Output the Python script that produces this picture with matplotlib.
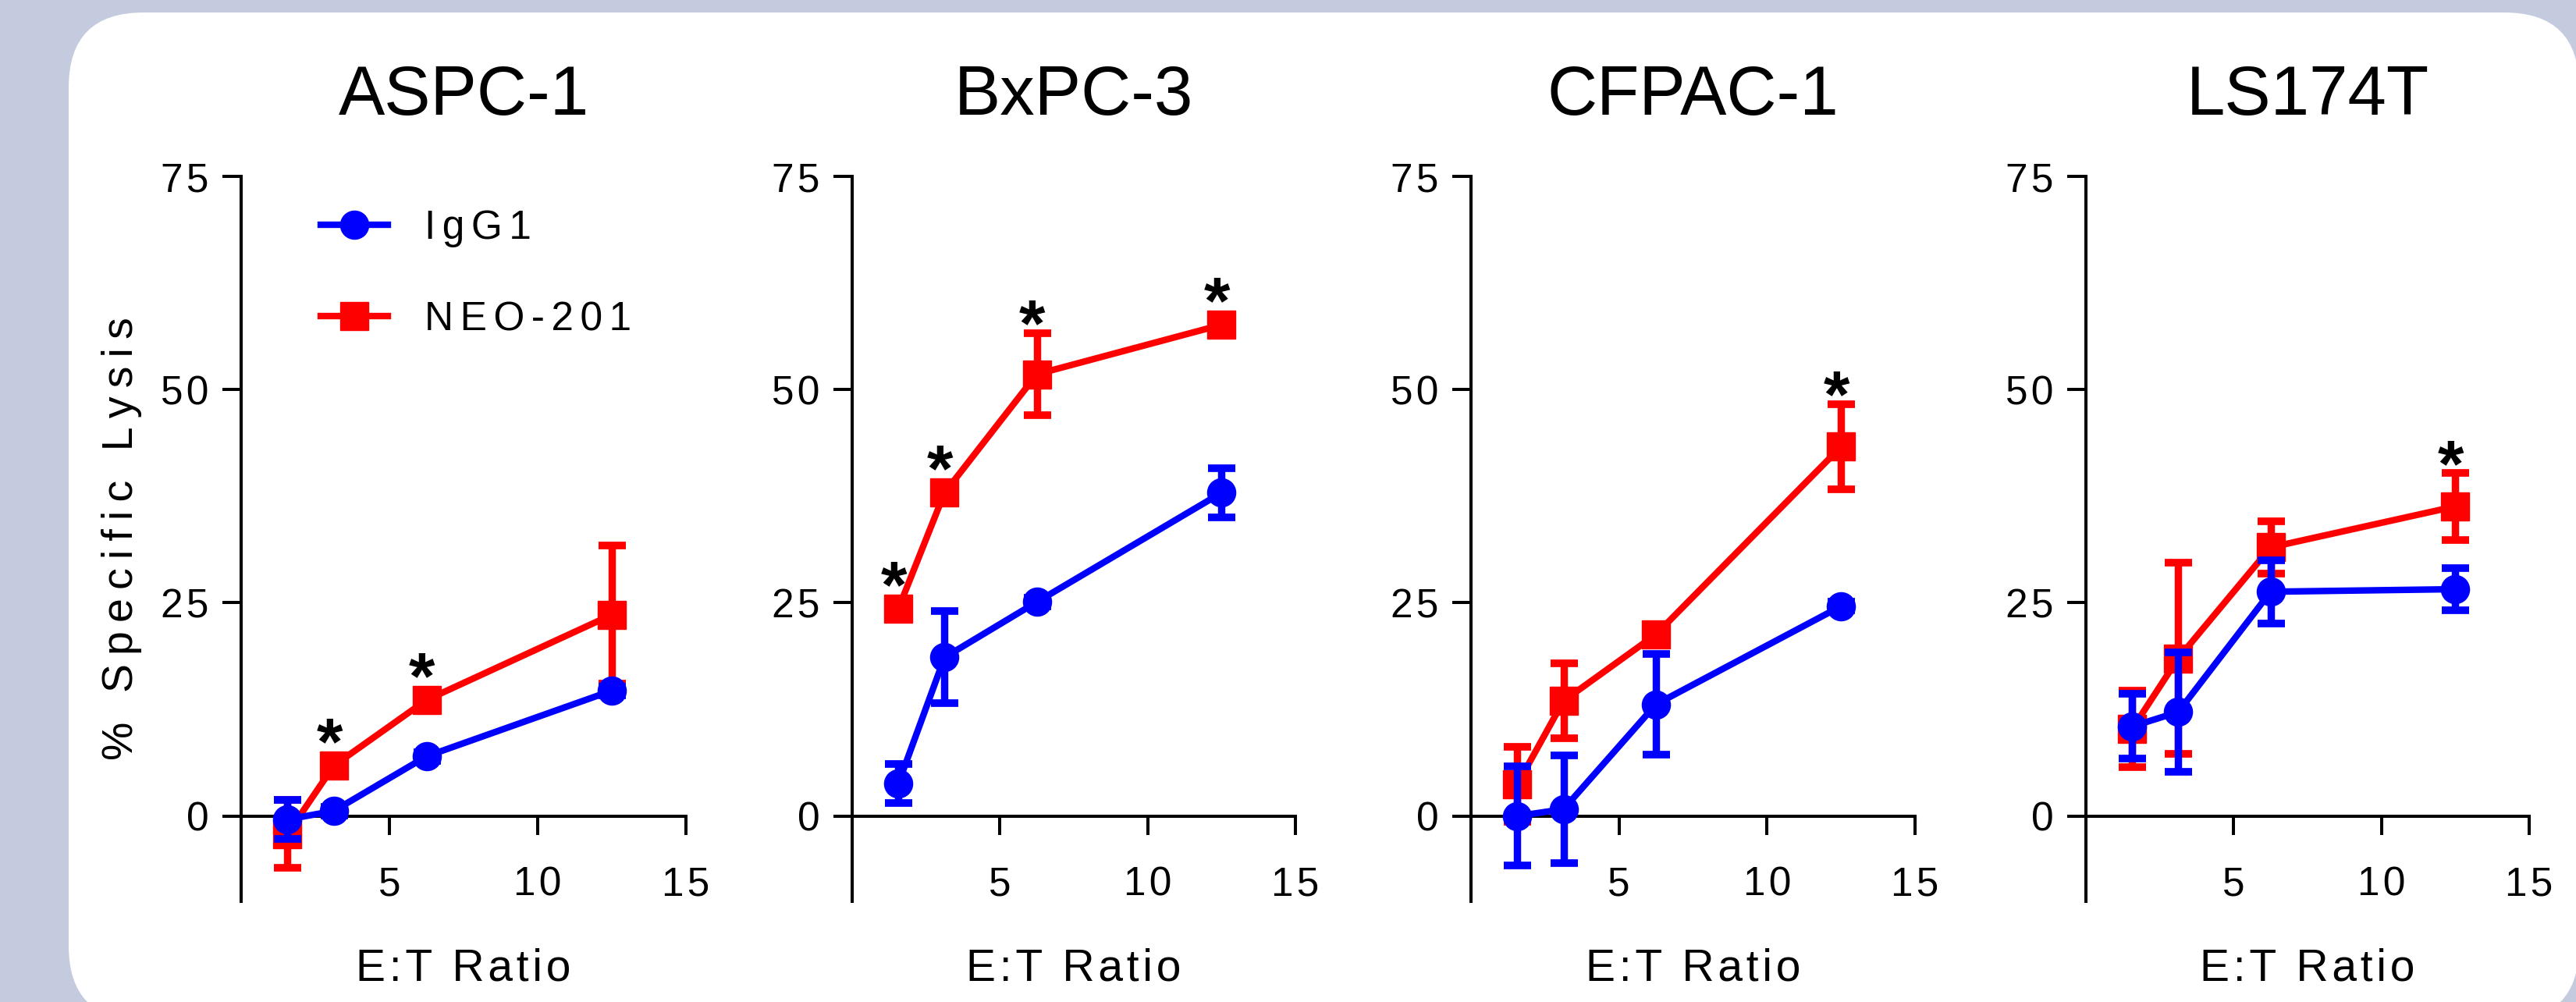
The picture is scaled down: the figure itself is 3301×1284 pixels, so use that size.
import matplotlib.pyplot as plt
from matplotlib.patches import FancyBboxPatch

plt.rcParams['font.family'] = ['Liberation Sans', 'DejaVu Sans']

# E:T ratios (x) shared by all panels
ratios = [1.5625, 3.125, 6.25, 12.5]
cell_lines = ["ASPC-1", "BxPC-3", "CFPAC-1", "LS174T"]
x_ticks = [5, 10, 15]
y_ticks = [0, 25, 50, 75]

# % specific lysis, one row per cell line
igg1_mean = [
    [-0.4, 0.6, 7.0, 14.7],
    [3.8, 18.6, 25.1, 37.9],
    [0.0, 0.8, 13.1, 24.6],
    [10.5, 12.2, 26.3, 26.6],
]
igg1_err = [
    [2.3, 0.5, 0.5, 0.5],
    [2.3, 5.4, 0.5, 2.9],
    [5.8, 6.3, 5.9, 0.5],
    [3.8, 7.0, 3.7, 2.5],
]
neo_mean = [
    [-2.1, 5.9, 13.6, 23.6],
    [24.3, 37.9, 51.8, 57.6],
    [3.7, 13.5, 21.3, 43.3],
    [10.2, 18.5, 31.5, 36.3],
]
neo_err = [
    [4.0, 0.5, 0.5, 8.1],
    [0.5, 0.5, 4.8, 0.5],
    [4.4, 4.4, 0.5, 5.0],
    [4.5, 11.2, 3.1, 3.9],
]
# points marked significant (*)
star_idx = [[1, 2], [0, 1, 2, 3], [3], [3]]

BLUE = '#0000ff'
RED = '#ff0000'
W, H = 3301, 1284
HAIR = '\u200a'
THIN = '\u2009'


def spaced(s, gap=HAIR):
    return gap.join(s)


fig = plt.figure(figsize=(W / 100, H / 100), dpi=100, facecolor='#c5cbdf')
card = FancyBboxPatch((0.88, -0.24), 32.17, 12.92,
                      boxstyle='round,pad=0,rounding_size=0.96',
                      transform=fig.dpi_scale_trans, facecolor='white',
                      edgecolor='none', zorder=-1)
fig.add_artist(card)

lefts = [309, 1092, 1885, 2673]
rights = [879, 1660, 2454, 3241]

for i, name in enumerate(cell_lines):
    ax = fig.add_axes([lefts[i] / W, 129 / H, (rights[i] - lefts[i]) / W, 929 / H])
    ax.set_facecolor('none')

    ax.errorbar(ratios, neo_mean[i], yerr=neo_err[i], fmt='none', ecolor=RED,
                elinewidth=6.8, capsize=12.6, capthick=7, zorder=2, clip_on=False)
    red_line, = ax.plot(ratios, neo_mean[i], color=RED, lw=6, marker='s', ms=26,
                        zorder=3, clip_on=False)
    ax.errorbar(ratios, igg1_mean[i], yerr=igg1_err[i], fmt='none', ecolor=BLUE,
                elinewidth=6.8, capsize=12.6, capthick=7, zorder=4, clip_on=False)
    blue_line, = ax.plot(ratios, igg1_mean[i], color=BLUE, lw=6, marker='o', ms=26,
                         zorder=5, clip_on=False)

    for j in star_idx[i]:
        top = neo_mean[i][j] + max(neo_err[i][j], 1.7)
        ax.text(ratios[j] - 0.15, top - 1.5, '*', ha='center', va='baseline',
                fontsize=62, fontweight='bold', zorder=6)

    ax.spines[['top', 'right']].set_visible(False)
    ax.spines['bottom'].set_position(('data', 0))
    for s in ('left', 'bottom'):
        ax.spines[s].set_linewidth(2.9)
    ax.set_xlim(0, 15)
    ax.set_ylim(-10, 75)
    ax.set_xticks(x_ticks, [spaced(str(v)) for v in x_ticks])
    ax.set_yticks(y_ticks, [spaced(str(v)) for v in y_ticks])
    ax.tick_params(axis='both', direction='out', length=17, width=2.9, labelsize=37)
    ax.tick_params(axis='x', pad=29)
    ax.tick_params(axis='y', pad=13)

    ax.set_title(name, fontsize=64, pad=57)
    ax.set_xlabel(spaced('E:T Ratio'), fontsize=41)
    ax.xaxis.set_label_coords(0.5, -0.064)

    if i == 0:
        ax.set_ylabel(spaced('% Specific Lysis', THIN), fontsize=40)
        ax.yaxis.set_label_coords(-0.223, 0.5)
        ax.legend([blue_line, red_line],
                  [spaced('IgG1', HAIR * 2), spaced('NEO-201', HAIR * 2)],
                  loc='upper left', bbox_to_anchor=(0.179, 0.955), frameon=False,
                  borderpad=0, borderaxespad=0, handlelength=1.68,
                  handletextpad=0.9, labelspacing=1.33, fontsize=37)

fig.savefig('out.png', dpi=100, facecolor=fig.get_facecolor())
